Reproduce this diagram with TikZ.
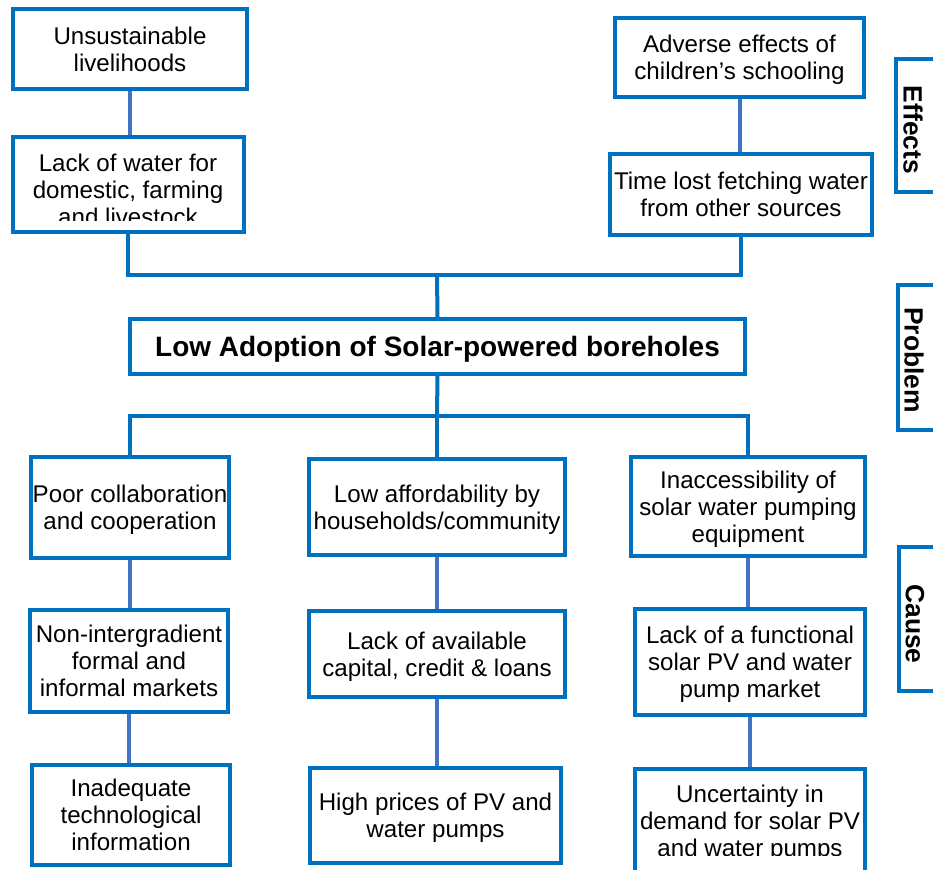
\documentclass[tikz,border=0pt]{standalone}
\usepackage{fontspec}
\setmainfont{Liberation Sans}
\usetikzlibrary{calc}
\definecolor{boxblue}{HTML}{0070C0}
\definecolor{linkblue}{HTML}{4472C4}
\newcommand\txtfont{\fontsize{18.1}{20.3}\selectfont}
\newcommand\mainfont{\fontsize{21}{25}\selectfont\bfseries}
\newcommand\sidefont{\fontsize{19.8}{23}\selectfont\bfseries}
\tikzset{
  cbox/.style 2 args={draw=boxblue, line width=3pt, fill=white, inner sep=0pt,
    align=center, font=\txtfont, text=black, text depth=0pt,
    minimum width=#1*0.75pt, minimum height=#2*0.75pt},
  plaintext/.style={inner sep=0pt, align=center, font=\txtfont, text=black},
  sidetext/.style={inner sep=0pt, font=\sidefont, text=black, rotate=-90},
  tree/.style={draw=boxblue, line width=3pt},
  link/.style={draw=linkblue, line width=3pt},
}
\begin{document}
\begin{tikzpicture}[x=0.75pt,y=-0.75pt]
\useasboundingbox (0,0) rectangle (933,869);
\clip (0,0) rectangle (933,869);
\fill[white] (0,0) rectangle (933,869);

% effects
\node[cbox={234}{80}] (un) at (130,49) {Unsustainable\\livelihoods};
\node[cbox={231}{95}] (lw) at (128,184.5) {};
\begin{scope}
  \clip (11,137) rectangle (242,220);
  \node[plaintext] (lwtxt) at (128,190) {Lack of water for\\domestic, farming\\and livestock};
\end{scope}
\node[cbox={249}{79}] (ad) at (739.5,57.5) {Adverse effects of\\children’s schooling};
\node[cbox={262}{81}] (tl) at (741,194.5) {Time lost fetching water\\from other sources};

% problem
\node[cbox={615}{55}, font=\mainfont] (main) at (437.5,346.5) {Low Adoption of Solar-powered boreholes};

% causes
\node[cbox={198}{101}] (l1) at (130,507.5) {Poor collaboration\\and cooperation};
\node[cbox={198}{102}] (l2) at (129,661) {Non-intergradient\\formal and\\informal markets};
\node[cbox={198}{100}] (l3) at (131,815) {Inadequate\\technological\\information};
\node[cbox={256}{96}] (m1) at (437,507) {Low affordability by\\households/community};
\node[cbox={256}{86}] (m2) at (437,654) {Lack of available\\capital, credit \& loans};
\node[cbox={251}{95}] (m3) at (435.5,815.5) {High prices of PV and\\water pumps};
\node[cbox={234}{99}] (r1) at (748,506.5) {Inaccessibility of\\solar water pumping\\equipment};
\node[cbox={230}{106}] (r2) at (750,662) {Lack of a functional\\solar PV and water\\pump market};
\node[cbox={230}{129}] (r3) at (750,833.5) {};
\begin{scope}
  \clip (635,769) rectangle (865,855);
  \node[plaintext] (r3txt) at (750,823) {Uncertainty in\\demand for solar PV\\and water pumps};
\end{scope}

% side labels
\node[cbox={64}{133}] (effbox) at (928,125.5) {};
\node[sidetext] (efftxt) at (913,130) {Effects};
\node[cbox={62}{145}] (probbox) at (929,357.5) {};
\node[sidetext] (probtxt) at (914,360) {Problem};
\node[cbox={61}{144}] (causebox) at (929.5,619) {};
\node[sidetext] (causetxt) at (915,624) {Cause};

% tree connectors
\coordinate (ebar) at (437,275);
\coordinate (cbar) at (437,416);
\draw[tree] (lw.south) |- (ebar) -| (tl.south);
\draw[tree] (ebar) -- (main.north);
\draw[tree] (main.south) -- (cbar);
\draw[tree] (l1.north) |- (cbar) -| (r1.north);
\draw[tree] (cbar) -- (m1.north);

% links within columns
\draw[link] (un.south) -- (un.south |- lw.north);
\draw[link] (ad.south) -- (ad.south |- tl.north);
\draw[link] (l1.south) -- (l1.south |- l2.north);
\draw[link] (l2.south) -- (l2.south |- l3.north);
\draw[link] (m1.south) -- (m1.south |- m2.north);
\draw[link] (m2.south) -- (m2.south |- m3.north);
\draw[link] (r1.south) -- (r1.south |- r2.north);
\draw[link] (r2.south) -- (r2.south |- r3.north);
\end{tikzpicture}
\end{document}
